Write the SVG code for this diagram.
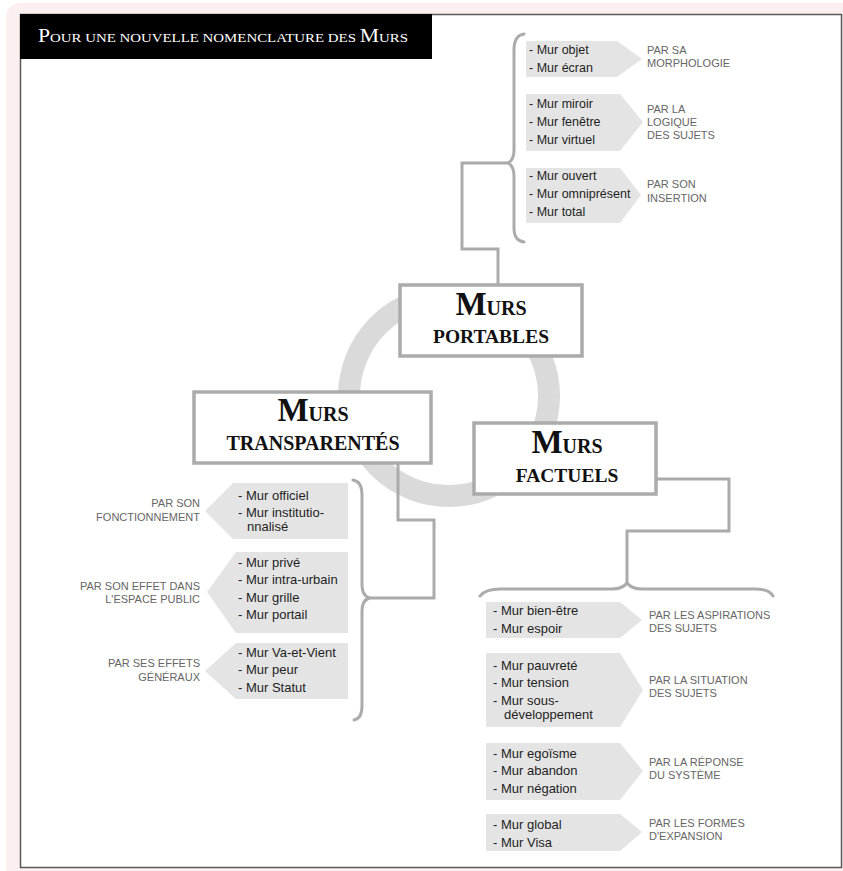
<svg xmlns="http://www.w3.org/2000/svg" width="843" height="871" viewBox="0 0 843 871">
<style>
.line{fill:none;stroke:#ababab;stroke-width:3;stroke-linejoin:miter}
.brace{fill:none;stroke:#ababab;stroke-width:3;stroke-linecap:round}
.box{fill:#fff;stroke:#ababab;stroke-width:3.5}
.arrow{fill:#e4e4e4}
.item{font-family:"Liberation Sans",Arial,sans-serif;font-size:13px;fill:#1e1e1e}
.itemS{font-family:"Liberation Sans",Arial,sans-serif;font-size:12.5px;fill:#1e1e1e}
.lab{font-family:"Liberation Sans",Arial,sans-serif;font-size:11px;fill:#666}
.big{font-family:"Liberation Serif","Times New Roman",serif;font-weight:bold;fill:#111;text-anchor:middle}
.title{font-family:"Liberation Serif","Times New Roman",serif;fill:#fff}
</style>
<rect x="0" y="0" width="843" height="871" fill="#fff"/>
<rect x="6" y="3" width="860" height="890" rx="14" fill="#fcefef"/>
<rect x="20.5" y="14.5" width="821" height="853" fill="#fff" stroke="#5a5a5a" stroke-width="1.5"/>
<g id="title">
<rect x="20" y="14" width="412" height="45" fill="#000"/>
<text class="title" x="38" y="42" textLength="370" lengthAdjust="spacingAndGlyphs"><tspan font-size="19">P</tspan><tspan font-size="13">OUR UNE NOUVELLE NOMENCLATURE DES </tspan><tspan font-size="19">M</tspan><tspan font-size="13">URS</tspan></text>
</g>
<circle id="ring" cx="449" cy="396" r="100" fill="none" stroke="#dadada" stroke-width="22"/>
<g id="connectors">
<path class="line" d="M508,163 H462 V249 H498 V284"/>
<path class="line" d="M398,463 V520 H434 V598 H368"/>
<path class="line" d="M655,479 H729 V531 H627 V585"/>
<path class="brace" d="M524,34 C517,35 514,40 514,50 L514,150 C514,157 512,161 508,163 C512,165 514,169 514,176 L514,228 C514,237 517,241 524,242"/>
<path class="brace" d="M353,480 C359,481 362,485 362,495 L362,585 C362,592 364,596 369,598 C364,600 362,604 362,611 L362,706 C362,715 359,719 354,720"/>
<path class="brace" d="M480,596 C484,591 490,589 500,589 L612,589 C620,589 624,587 627,583 C630,587 634,589 642,589 L755,589 C765,589 770,591 773,596"/>
</g>
<g id="murs-portables">
<rect class="box" x="400" y="285" width="182" height="71"/>
<text class="big" x="491" y="315"><tspan font-size="33">M</tspan><tspan font-size="20">URS</tspan></text>
<text class="big" x="491" y="343" font-size="19.5">PORTABLES</text>
</g>
<g id="murs-transparentes">
<rect class="box" x="194" y="392" width="237" height="71"/>
<text class="big" x="313" y="421"><tspan font-size="33">M</tspan><tspan font-size="20">URS</tspan></text>
<text class="big" x="313" y="450" font-size="20">TRANSPARENTÉS</text>
</g>
<g id="murs-factuels">
<rect class="box" x="474" y="423" width="182" height="71"/>
<text class="big" x="567" y="453"><tspan font-size="33">M</tspan><tspan font-size="20">URS</tspan></text>
<text class="big" x="567" y="482" font-size="19.5">FACTUELS</text>
</g>
<g id="portables-morphologie">
<polygon class="arrow" points="526,41 617,41 642,59 617,77 526,77"/>
<text class="itemS" x="529" y="54">- Mur objet</text>
<text class="itemS" x="529" y="72">- Mur écran</text>
<text class="lab" x="647" y="54">PAR SA</text>
<text class="lab" x="647" y="67">MORPHOLOGIE</text>
</g>
<g id="portables-logique">
<polygon class="arrow" points="526,94 620,94 643,122 620,151 526,151"/>
<text class="itemS" x="529" y="108">- Mur miroir</text>
<text class="itemS" x="529" y="126">- Mur fenêtre</text>
<text class="itemS" x="529" y="144">- Mur virtuel</text>
<text class="lab" x="647" y="113">PAR LA</text>
<text class="lab" x="647" y="126">LOGIQUE</text>
<text class="lab" x="647" y="139">DES SUJETS</text>
</g>
<g id="portables-insertion">
<polygon class="arrow" points="526,168 620,168 641,195 620,223 526,223"/>
<text class="itemS" x="529" y="180">- Mur ouvert</text>
<text class="itemS" x="529" y="198">- Mur omniprésent</text>
<text class="itemS" x="529" y="216">- Mur total</text>
<text class="lab" x="647" y="188">PAR SON</text>
<text class="lab" x="647" y="202">INSERTION</text>
</g>
<g id="transparentes-fonctionnement">
<polygon class="arrow" points="348,483 233,483 205,511 233,539 348,539"/>
<text class="item" x="238" y="500">- Mur officiel</text>
<text class="item" x="238" y="517">- Mur institutio-</text>
<text class="item" x="247" y="531">nnalisé</text>
<text class="lab" x="200" y="507" text-anchor="end">PAR SON</text>
<text class="lab" x="200" y="521" text-anchor="end">FONCTIONNEMENT</text>
</g>
<g id="transparentes-espace">
<polygon class="arrow" points="348,552 236,552 207,592 236,633 348,633"/>
<text class="item" x="238" y="567">- Mur privé</text>
<text class="item" x="238" y="584">- Mur intra-urbain</text>
<text class="item" x="238" y="602">- Mur grille</text>
<text class="item" x="238" y="619">- Mur portail</text>
<text class="lab" x="200" y="590" text-anchor="end">PAR SON EFFET DANS</text>
<text class="lab" x="200" y="603" text-anchor="end">L'ESPACE PUBLIC</text>
</g>
<g id="transparentes-generaux">
<polygon class="arrow" points="348,643 236,643 205,671 236,699 348,699"/>
<text class="item" x="238" y="657">- Mur Va-et-Vient</text>
<text class="item" x="238" y="674">- Mur peur</text>
<text class="item" x="238" y="692">- Mur Statut</text>
<text class="lab" x="200" y="667" text-anchor="end">PAR SES EFFETS</text>
<text class="lab" x="200" y="681" text-anchor="end">GÉNÉRAUX</text>
</g>
<g id="factuels-aspirations">
<polygon class="arrow" points="486,602 620,602 642,620 620,638 486,638"/>
<text class="item" x="493" y="615">- Mur bien-être</text>
<text class="item" x="493" y="633">- Mur espoir</text>
<text class="lab" x="649" y="619">PAR LES ASPIRATIONS</text>
<text class="lab" x="649" y="632">DES SUJETS</text>
</g>
<g id="factuels-situation">
<polygon class="arrow" points="486,653 620,653 643,690 620,727 486,727"/>
<text class="item" x="493" y="670">- Mur pauvreté</text>
<text class="item" x="493" y="687">- Mur tension</text>
<text class="item" x="493" y="705">- Mur sous-</text>
<text class="item" x="504" y="719">développement</text>
<text class="lab" x="649" y="684">PAR LA SITUATION</text>
<text class="lab" x="649" y="697">DES SUJETS</text>
</g>
<g id="factuels-reponse">
<polygon class="arrow" points="486,743 620,743 643,771 620,800 486,800"/>
<text class="item" x="493" y="758">- Mur egoïsme</text>
<text class="item" x="493" y="775">- Mur abandon</text>
<text class="item" x="493" y="793">- Mur négation</text>
<text class="lab" x="649" y="766">PAR LA RÉPONSE</text>
<text class="lab" x="649" y="779">DU SYSTÈME</text>
</g>
<g id="factuels-expansion">
<polygon class="arrow" points="486,814 620,814 642,832 620,851 486,851"/>
<text class="item" x="493" y="829">- Mur global</text>
<text class="item" x="493" y="847">- Mur Visa</text>
<text class="lab" x="649" y="827">PAR LES FORMES</text>
<text class="lab" x="649" y="840">D'EXPANSION</text>
</g>
</svg>
